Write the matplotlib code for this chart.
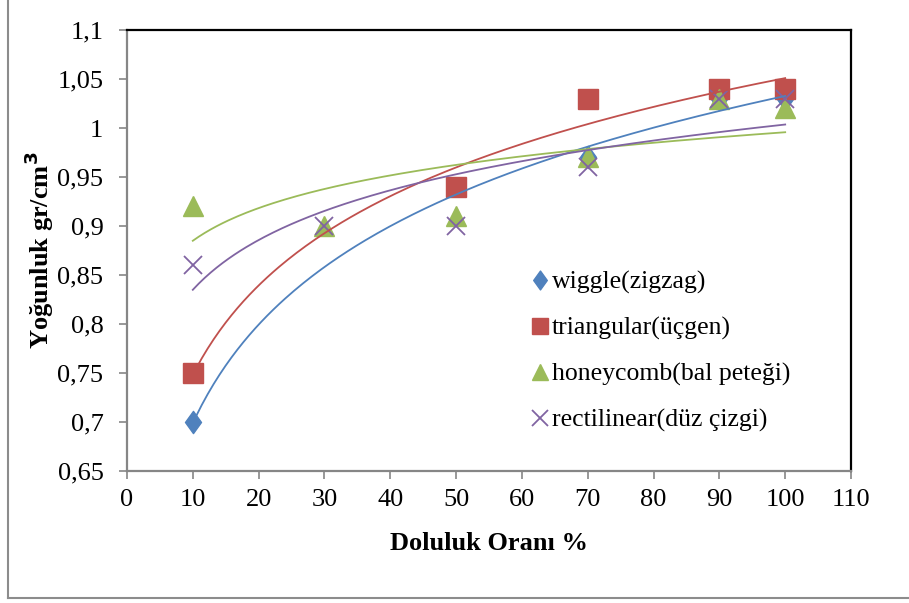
import numpy as np
import matplotlib.pyplot as plt
from matplotlib.lines import Line2D
from matplotlib.path import Path

plt.rcParams['font.family'] = ['Liberation Serif', 'DejaVu Serif']

# doluluk orani (%) and density for each infill pattern
x_wiggle = [10, 70, 90, 100]
y_wiggle = [0.70, 0.97, 1.03, 1.03]
x_tri = [10, 50, 70, 90, 100]
y_tri = [0.75, 0.94, 1.03, 1.04, 1.04]
x_honey = [10, 30, 50, 70, 90, 100]
y_honey = [0.92, 0.90, 0.91, 0.97, 1.03, 1.02]
x_rect = [10, 30, 50, 70, 90, 100]
y_rect = [0.86, 0.90, 0.90, 0.96, 1.03, 1.03]

labels = ['wiggle(zigzag)', 'triangular(üçgen)', 'honeycomb(bal peteği)', 'rectilinear(düz çizgi)']
colors = ['#4F81BD', '#C0504D', '#9BBB59', '#8064A2']

x_ticks = list(range(0, 111, 10))
y_ticks = [0.65, 0.7, 0.75, 0.8, 0.85, 0.9, 0.95, 1.0, 1.05, 1.1]
y_ticklabels = ['0,65', '0,7', '0,75', '0,8', '0,85', '0,9', '0,95', '1', '1,05', '1,1']

# tall diamond like the excel marker
diamond = Path([(0, 1), (0.72, 0), (0, -1), (-0.72, 0), (0, 1)], closed=True)

series = [
    (x_wiggle, y_wiggle, dict(marker=diamond, ms=16)),
    (x_tri, y_tri, dict(marker='s', ms=14)),
    (x_honey, y_honey, dict(marker='^', ms=14)),
    (x_rect, y_rect, dict(marker='x', ms=13, mew=1.3)),
]

fig = plt.figure(figsize=(9.09, 6.03), dpi=100)
ax = fig.add_axes([0.1397, 0.2189, 0.9362 - 0.1397, 0.9502 - 0.2189])

handles = []
for (xs, ys, style), lab, c in zip(series, labels, colors):
    h, = ax.plot(xs, ys, ls='none', color=c, mec=c, label=lab, zorder=3, **style)
    handles.append(h)

# logarithmic trendlines
for (xs, ys, style), c in zip(series, colors):
    b, a = np.polyfit(np.log(xs), ys, 1)
    xx = np.linspace(10, 100, 200)
    ax.plot(xx, a + b * np.log(xx), color=c, lw=1.3, zorder=4)

ax.set_xlim(0, 110)
ax.set_ylim(0.65, 1.1)
ax.set_xticks(x_ticks)
ax.set_yticks(y_ticks)
ax.set_yticklabels(y_ticklabels)

for s in ['top', 'right']:
    ax.spines[s].set_color('black')
    ax.spines[s].set_linewidth(1.6)
for s in ['left', 'bottom']:
    ax.spines[s].set_color('#868686')
    ax.spines[s].set_linewidth(1.6)

ax.tick_params(axis='both', direction='out', length=6, width=1.2, color='#868686',
               labelsize=19, labelcolor='black')
ax.tick_params(axis='y', pad=11)
ax.tick_params(axis='x', pad=7)

ax.set_xlabel('Doluluk Oranı %', fontsize=19, fontweight='bold', labelpad=15)
ax.set_ylabel('Yoğunluk gr/cm$^\\mathbf{3}$', fontsize=19, fontweight='bold', labelpad=1)

ax.legend(handles=handles, loc='upper left', bbox_to_anchor=(0.56, 0.454), frameon=False,
          fontsize=18.5, handlelength=0.6, handletextpad=0.15, labelspacing=0.88,
          borderpad=0, borderaxespad=0, markerscale=0.85)

# outer chart frame
fig.add_artist(Line2D([0.0088, 0.0088], [0.0083, 1.0], transform=fig.transFigure,
                      color='#8c8c8c', lw=1.5))
fig.add_artist(Line2D([0.0088, 1.0], [0.0083, 0.0083], transform=fig.transFigure,
                      color='#8c8c8c', lw=1.5))

fig.savefig('out.png', dpi=100)
